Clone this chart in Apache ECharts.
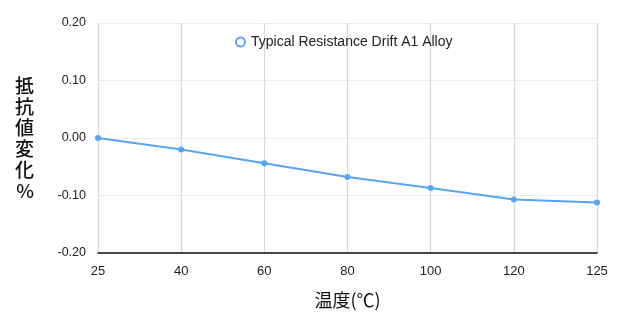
<!DOCTYPE html>
<html>
<head>
<meta charset="utf-8">
<script src="https://cdn.jsdelivr.net/npm/echarts@6/dist/echarts.min.js"></script>
<style>
  html, body { margin: 0; padding: 0; background: #fff; }
  #chart { width: 619px; height: 316px; }
</style>
</head>
<body>
<div id="chart"></div>
<script>
  // 温度 (℃) categories and drift values (%)
  var temps = ['25', '40', '60', '80', '100', '120', '125'];
  var drift = [0.000, -0.020, -0.044, -0.068, -0.087, -0.107, -0.112];
  var seriesName = 'Typical Resistance Drift A1 Alloy';

  var chart = echarts.init(document.getElementById('chart'));
  chart.setOption({
    animation: false,
    textStyle: { fontFamily: 'Liberation Sans, Arial, sans-serif' },
    grid: { left: 98, right: 22, top: 23, bottom: 63 },
    legend: {
      data: [seriesName],
      top: 30,
      left: 230,
      icon: 'emptyCircle',
      itemWidth: 9,
      itemHeight: 9,
      itemGap: 5,
      itemStyle: { borderWidth: 2.5 },
      textStyle: { fontSize: 14, color: '#222', padding: [0, 0, 0, 1] }
    },
    xAxis: {
      type: 'category',
      data: temps,
      boundaryGap: false,
      name: '温度(℃)',
      nameLocation: 'middle',
      nameGap: 38,
      nameTextStyle: { fontSize: 18, color: '#111', fontFamily: 'Noto Sans CJK JP' },
      axisLine: { onZero: false, lineStyle: { color: '#111', width: 1.5 } },
      axisTick: { show: false },
      axisLabel: { fontSize: 13, color: '#222', margin: 12 },
      splitLine: { show: true, lineStyle: { color: '#d8d8d8', width: 1.2 } }
    },
    yAxis: {
      type: 'value',
      min: -0.2,
      max: 0.2,
      interval: 0.1,
      name: '抵\n抗\n値\n変\n化\n%',
      nameLocation: 'middle',
      nameRotate: 0,
      nameGap: 64,
      nameTextStyle: { fontSize: 19, fontWeight: 500, color: '#111', lineHeight: 21, fontFamily: 'Noto Sans CJK JP' },
      axisLine: { show: false },
      axisTick: { show: false },
      axisLabel: {
        fontSize: 12.5, color: '#222', margin: 12,
        formatter: function (v) { return v.toFixed(2); }
      },
      splitLine: { lineStyle: { color: '#ececec', width: 1 } }
    },
    series: [
      {
        name: seriesName,
        type: 'line',
        data: drift,
        symbol: 'circle',
        symbolSize: 6,
        lineStyle: { color: '#57a5f5', width: 2 },
        itemStyle: { color: '#57a5f5' }
      }
    ]
  });
</script>
</body>
</html>
